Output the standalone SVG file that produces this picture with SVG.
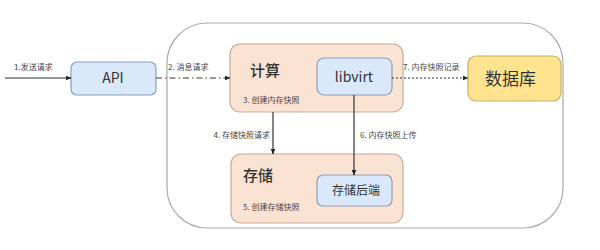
<svg xmlns="http://www.w3.org/2000/svg" width="600" height="250" viewBox="0 0 600 250">
<defs>
<marker id="ah" viewBox="0 0 10 10" refX="9" refY="5" markerWidth="5" markerHeight="5" orient="auto"><path d="M0,1 L10,5 L0,9 z" fill="#222"/></marker>
<style>
text{font-family:"Noto Sans CJK SC","Noto Sans",sans-serif;fill:#333}
.lbl{font-size:8px;fill:#444}
.big{font-size:14px}
.blue{fill:#dae8fc;stroke:#8a9fb8;stroke-width:1.2}
.peach{fill:#fbe3d4;stroke:#c7aa98;stroke-width:1.2}
.edge{stroke:#333;stroke-width:1.2;fill:none;marker-end:url(#ah)}
</style>
</defs>
<rect x="0" y="0" width="600" height="250" fill="#fff"/>
<g id="container"><rect x="167" y="23" width="396" height="205" rx="40" fill="#fff" stroke="#aaa" stroke-width="1.2"/></g>
<g id="api"><rect class="blue" x="71" y="62" width="85" height="33" rx="6"/><text class="big" x="113" y="83" text-anchor="middle">API</text></g>
<g id="compute"><rect class="peach" x="230" y="44" width="173" height="68" rx="10"/><text x="250" y="76" font-size="15" font-weight="500">计算</text><text class="lbl" x="243" y="103">3. 创建内存快照</text></g>
<g id="libvirt"><rect class="blue" x="317" y="58" width="75" height="37" rx="7"/><text class="big" x="354" y="82" text-anchor="middle">libvirt</text></g>
<g id="db"><rect x="468" y="56" width="93" height="45" rx="8" fill="#ffe38f" stroke="#c7ad62" stroke-width="1.2"/><text x="485" y="85" font-size="17">数据库</text></g>
<g id="storage"><rect class="peach" x="231" y="154" width="172" height="69" rx="10"/><text x="243" y="181" font-size="15" font-weight="500">存储</text><text class="lbl" x="243" y="210">5. 创建存储快照</text></g>
<g id="backend"><rect class="blue" x="317" y="175" width="75" height="31" rx="6"/><text x="356" y="195" font-size="12" text-anchor="middle">存储后端</text></g>
<g id="edges">
<line class="edge" x1="5" y1="78" x2="71" y2="78"/>
<line class="edge" x1="156" y1="78" x2="230" y2="78" stroke-dasharray="6,3,1.5,3"/>
<line class="edge" x1="392" y1="78" x2="468" y2="78" stroke-dasharray="2,2"/>
<line class="edge" x1="273" y1="112" x2="273" y2="154"/>
<line class="edge" x1="354" y1="95" x2="354" y2="175"/>
<text class="lbl" x="14" y="70">1.发送请求</text>
<text class="lbl" x="168" y="70">2. 消息请求</text>
<text class="lbl" x="403" y="70">7. 内存快照记录</text>
<text class="lbl" x="270" y="138" text-anchor="end">4. 存储快照请求</text>
<text class="lbl" x="360" y="138">6. 内存快照上传</text>
</g>
</svg>
